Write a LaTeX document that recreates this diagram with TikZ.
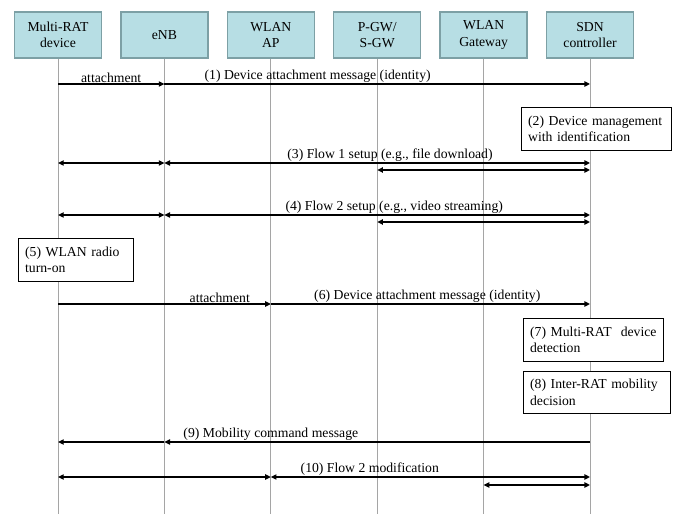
\documentclass[tikz,border=0pt]{standalone}
\usepackage{fontspec}
\setmainfont{Liberation Serif}
\usetikzlibrary{positioning,arrows.meta}

\definecolor{hdrfill}{RGB}{183,222,228}
\definecolor{hdrline}{RGB}{125,160,165}
\definecolor{lifegray}{RGB}{165,165,165}

\tikzset{
  entity/.style={draw=hdrline, line width=1.2pt, fill=hdrfill, minimum width=2.61cm,
    minimum height=1.38cm, align=center, inner sep=2pt},
  lifeline/.style={draw=lifegray, line width=0.8pt},
  msg/.style={line width=1pt, -{Triangle[length=4.8pt,width=4.5pt]}},
  flow/.style={line width=1pt, {Triangle[length=4.8pt,width=4.5pt]}-{Triangle[length=4.8pt,width=4.5pt]}},
  lbl/.style={above, inner sep=0.5pt},
  action/.style={draw, line width=0.8pt, fill=white, align=left, anchor=north west,
    inner xsep=0.2cm, minimum height=1.29cm},
}

\begin{document}
\begin{tikzpicture}[x=0.03cm, y=-0.03cm, font=\fontsize{11.7}{14}\selectfont]
\useasboundingbox (0,0) rectangle (673,514);

\node[entity] (dev) at (58,35) {Multi-RAT\\device};
\node[entity, right=0.54cm of dev] (enb) {eNB};
\node[entity, right=0.54cm of enb] (ap) {WLAN\\AP};
\node[entity, right=0.54cm of ap] (gw) {P-GW/\\S-GW};
\node[entity, right=0.54cm of gw] (wgw) {WLAN\\Gateway};
\node[entity, right=0.54cm of wgw] (sdn) {SDN\\controller};

\foreach \n in {dev,enb,ap,gw,wgw,sdn} {
  \coordinate (\n-end) at (\n |- 0,514);
  \draw[lifeline] (\n.south) -- (\n-end);
}
\foreach \r/\y in {1/84, 3/163, 3b/170, 4/215, 4b/222, 6/304, 9/442, 10/477, 10b/485}
  \foreach \n in {dev,enb,ap,gw,wgw,sdn}
    \coordinate (\n-\r) at (\n |- 0,\y);

\draw[msg] (dev-1) -- node[lbl] {attachment} (enb-1);
\draw[msg] (enb-1) -- node[lbl, pos=0.36] {(1) Device attachment message (identity)} (sdn-1);

\node[action, text width=4.1cm] (n2) at (521,107) {(2) Device management\\with identification};

\draw[flow] (dev-3) -- (enb-3);
\draw[flow] (enb-3) -- node[lbl, pos=0.53] {(3) Flow 1 setup (e.g., file download)} (sdn-3);
\draw[flow] (gw-3b) -- (sdn-3b);

\draw[flow] (dev-4) -- (enb-4);
\draw[flow] (enb-4) -- node[lbl, pos=0.54] {(4) Flow 2 setup (e.g., video streaming)} (sdn-4);
\draw[flow] (gw-4b) -- (sdn-4b);

\node[action, text width=3.05cm] (n5) at (18,238) {(5) WLAN radio\\turn-on};

\draw[msg] (dev-6) -- node[lbl, pos=0.76] {attachment} (ap-6);
\draw[msg] (ap-6) -- node[lbl, pos=0.49] {(6) Device attachment message (identity)} (sdn-6);

\node[action, text width=3.8cm] (n7) at (523,318) {(7) Multi-RAT\ \ device\\detection};
\node[action, text width=4.0cm, minimum height=1.26cm] (n8) at (523,371) {(8) Inter-RAT mobility\\decision};

\draw[msg] (sdn-9) -- node[lbl, pos=0.75] {(9) Mobility command message} (enb-9);
\draw[msg] (enb-9) -- (dev-9);

\draw[flow] (dev-10) -- (ap-10);
\draw[flow] (ap-10) -- node[lbl, pos=0.31] {(10) Flow 2 modification} (sdn-10);
\draw[flow] (wgw-10b) -- (sdn-10b);
\end{tikzpicture}
\end{document}
